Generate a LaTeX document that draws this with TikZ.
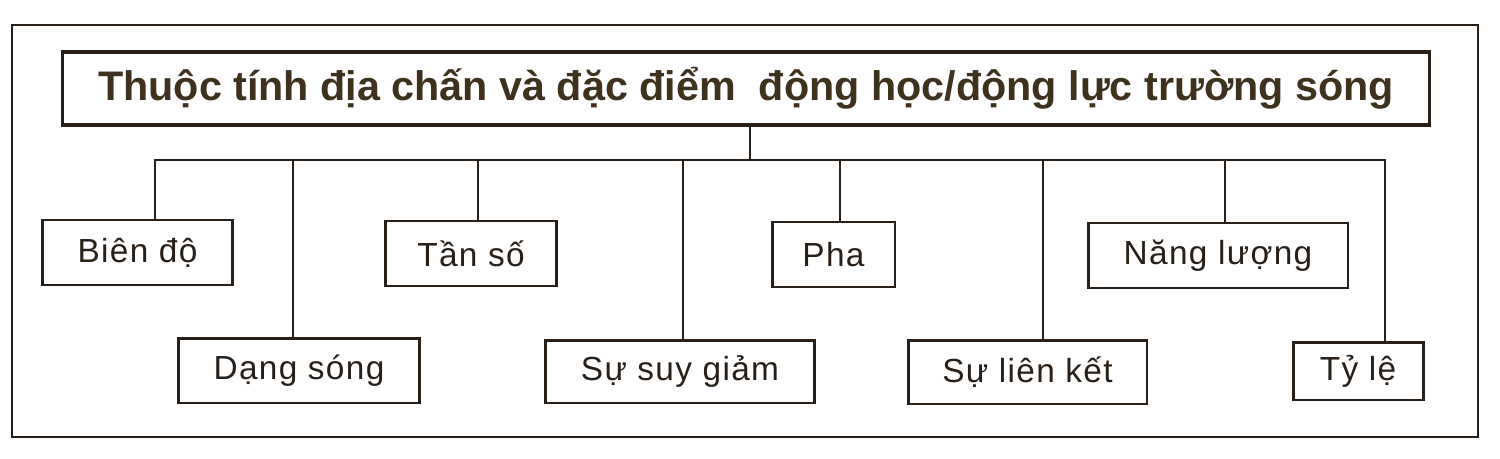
\documentclass[tikz,border=0pt]{standalone}
\usepackage{fontspec}
\setmainfont{Liberation Sans}
\usetikzlibrary{positioning}
\definecolor{ink}{RGB}{40,32,24}
\definecolor{titleink}{RGB}{62,50,30}
\tikzset{
    leafbox/.style={draw=ink, line width=1.7pt, inner sep=0pt, minimum height=1.3cm,
        text=ink, font=\fontsize{19}{22}\selectfont\addfontfeatures{LetterSpace=4}},
    headbox/.style={draw=ink, line width=1.8pt, inner sep=0pt, minimum width=27.36cm,
        minimum height=1.46cm, text=titleink,
        font=\fontsize{23.5}{26}\selectfont\bfseries},
    link/.style={draw=ink, line width=1.4pt}
}
\begin{document}
\begin{tikzpicture}[x=0.02cm, y=-0.02cm]
        \useasboundingbox (0,0) rectangle (1500,459);
        \draw[ink, line width=1.4pt] (12,25) rectangle (1478,437);
        \node[headbox] (title) at (746,88.5) {Thuộc tính địa chấn và đặc điểm \ động học/động lực trường sóng};
        % upper row
        \node[leafbox, minimum width=3.82cm] (biendo) at (137.5,252.5) {Biên độ};
        \node[leafbox, minimum width=3.44cm] (tanso) at (471,253.5) {Tần số};
        \node[leafbox, minimum width=2.46cm] (pha) at (833.5,254.5) {Pha};
        \node[leafbox, minimum width=5.2cm] (nangluong) at (1218,255.5) {Năng lượng};
        % lower row
        \node[leafbox, minimum width=4.84cm] (dangsong) at (299,370.5) {Dạng sóng};
        \node[leafbox, minimum width=5.4cm, minimum height=1.26cm] (suygiam) at (680,371.5) {Sự suy giảm};
        \node[leafbox, minimum width=4.78cm, minimum height=1.28cm] (lienket) at (1027.5,372) {Sự liên kết};
        \node[leafbox, minimum width=2.6cm, minimum height=1.16cm] (tyle) at (1358,371) {Tỷ lệ};
        % bus
        \coordinate (hub) at (750,160);
        \coordinate (b1) at (155,160);
        \coordinate (b2) at (293,160);
        \coordinate (b3) at (478,160);
        \coordinate (b4) at (683,160);
        \coordinate (b5) at (840,160);
        \coordinate (b6) at (1043,160);
        \coordinate (b7) at (1225,160);
        \coordinate (b8) at (1385,160);
        \draw[link] (hub |- title.south) -- (hub);
        \draw[link] (b1 |- biendo.north) -- (b1) -- (b8) -- (b8 |- tyle.north);
        \draw[link] (b2) -- (b2 |- dangsong.north);
        \draw[link] (b3) -- (b3 |- tanso.north);
        \draw[link] (b4) -- (b4 |- suygiam.north);
        \draw[link] (b5) -- (b5 |- pha.north);
        \draw[link] (b6) -- (b6 |- lienket.north);
        \draw[link] (b7) -- (b7 |- nangluong.north);
    \end{tikzpicture}
\end{document}
